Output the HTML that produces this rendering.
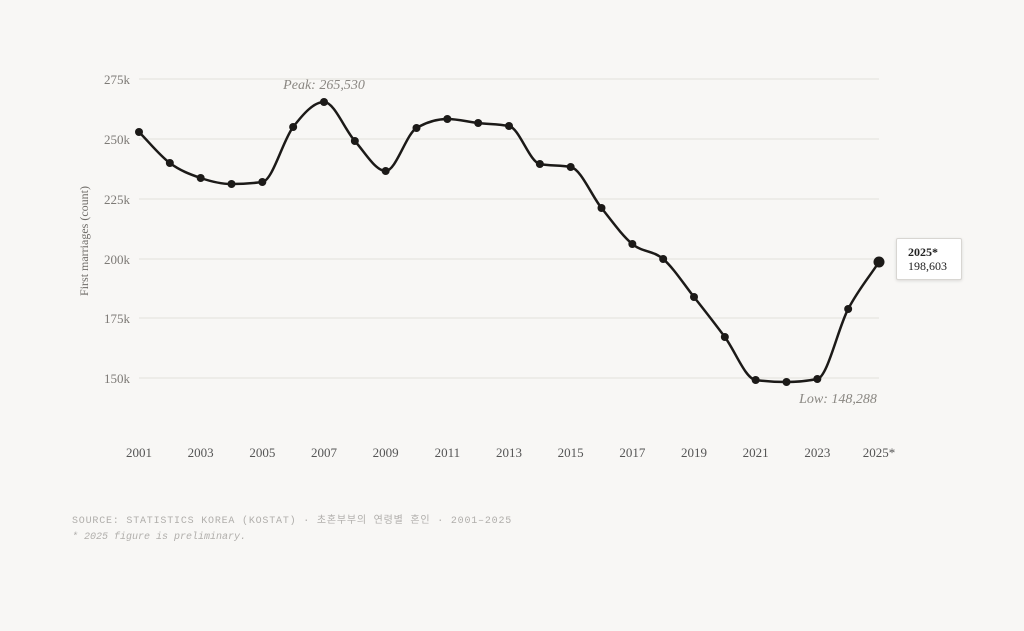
<!DOCTYPE html>
<html><head><meta charset="utf-8">
<style>
html,body{margin:0;padding:0;background:#f8f7f5;}
body{width:1024px;height:631px;overflow:hidden;position:relative;}
svg{position:absolute;left:0;top:0;}
.src{position:absolute;left:72px;top:511px;font-family:"Liberation Mono","Noto Sans CJK KR",monospace;font-size:10px;color:#b0aeab;letter-spacing:0.8px;}
.note{position:absolute;left:72px;top:532px;font-family:"Liberation Mono",monospace;font-size:10px;color:#b0aeab;font-style:italic;}
.tip{position:absolute;left:896px;top:238px;width:66px;height:42px;background:#fff;border:1px solid #d8d6d2;border-radius:2px;box-shadow:0 1px 3px rgba(0,0,0,0.12);font-family:"Liberation Serif",serif;font-size:12px;color:#222;box-sizing:border-box;padding:6px 0 0 11px;line-height:14px;}
</style></head><body>
<svg id="c" width="1024" height="631" xmlns="http://www.w3.org/2000/svg" font-family="Liberation Serif, serif">
<g stroke="#e2e0dc" stroke-width="1">
<line x1="139" x2="879" y1="79" y2="79"/><line x1="139" x2="879" y1="139" y2="139"/>
<line x1="139" x2="879" y1="199" y2="199"/><line x1="139" x2="879" y1="259" y2="259"/>
<line x1="139" x2="879" y1="318" y2="318"/><line x1="139" x2="879" y1="378" y2="378"/>
</g>
<g fill="#7d7a76" font-size="13" text-anchor="end">
<text x="130" y="84">275k</text><text x="130" y="144">250k</text><text x="130" y="204">225k</text>
<text x="130" y="264">200k</text><text x="130" y="323">175k</text><text x="130" y="383">150k</text>
</g>
<text transform="translate(88,241) rotate(-90)" fill="#6e6b67" font-size="12" text-anchor="middle">First marriages (count)</text>
<g fill="#555" font-size="13" text-anchor="middle" id="xl"></g>
<text x="324" y="89" fill="#8a8782" font-size="14" font-style="italic" text-anchor="middle">Peak: 265,530</text>
<text x="838" y="403" fill="#8a8782" font-size="14" font-style="italic" text-anchor="middle">Low: 148,288</text>
<path id="ln" fill="none" stroke="#1c1a18" stroke-width="2.5"/>
<g id="dots" fill="#1c1a18"></g>
</svg>
<div class="tip"><b>2025*</b><br>198,603</div>
<div class="src">SOURCE: STATISTICS KOREA (KOSTAT) · 초혼부부의 연령별 혼인 · 2001–2025</div>
<div class="note">* 2025 figure is preliminary.</div>
<script>
var ys=[132,163,178,184,182,127,102,141,171,128,119,123,126,164,167,208,244,259,297,337,380,382,379,309,262];
var n=ys.length,xs=[];for(var i=0;i<n;i++)xs.push(139+i*740/24);
var h=740/24,d=[],m=[];
for(i=0;i<n-1;i++)d.push((ys[i+1]-ys[i])/h);
for(i=0;i<n;i++){if(i==0)m.push(d[0]);else if(i==n-1)m.push(d[n-2]);else{var a=d[i-1],b=d[i];var p=(a+b)/2;m.push((Math.sign(a)+Math.sign(b))*Math.min(Math.abs(a),Math.abs(b),0.5*Math.abs(p))||0);}}
var s="M"+xs[0]+","+ys[0];
for(i=0;i<n-1;i++){var dx=h/3;s+=" C"+(xs[i]+dx)+","+(ys[i]+m[i]*dx)+" "+(xs[i+1]-dx)+","+(ys[i+1]-m[i+1]*dx)+" "+xs[i+1]+","+ys[i+1];}
document.getElementById("ln").setAttribute("d",s);
var g=document.getElementById("dots"),ns="http://www.w3.org/2000/svg";
for(i=0;i<n;i++){var c=document.createElementNS(ns,"circle");c.setAttribute("cx",xs[i]);c.setAttribute("cy",ys[i]);c.setAttribute("r",i==n-1?5.5:4);g.appendChild(c);}
var xl=document.getElementById("xl");
for(i=0;i<n;i+=2){var t=document.createElementNS(ns,"text");t.setAttribute("x",xs[i]);t.setAttribute("y",457);t.textContent=(2001+i)+(i==24?"*":"");xl.appendChild(t);}
</script>
</body></html>
